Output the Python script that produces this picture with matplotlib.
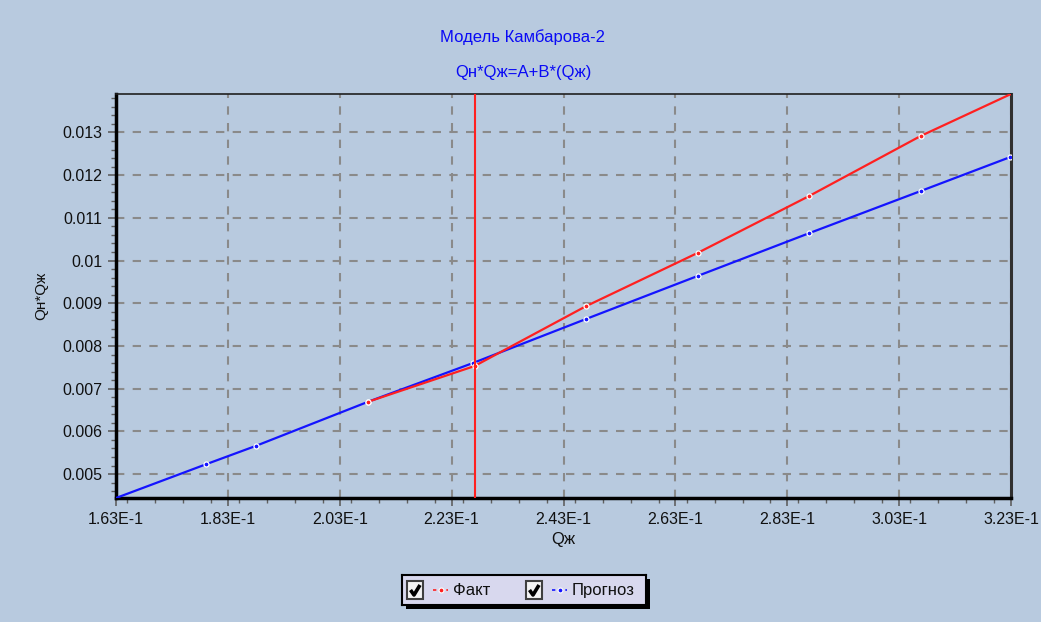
import numpy as np
import matplotlib.pyplot as plt
from matplotlib.patches import Rectangle
from matplotlib.ticker import FixedLocator, MultipleLocator

plt.rcParams['font.family'] = ['Liberation Sans', 'DejaVu Sans']

# data
q_fact = [0.2080, 0.2271, 0.2470, 0.2670, 0.2869, 0.3069, 0.3230]
y_fact = [0.00669, 0.00753, 0.00893, 0.01018, 0.01151, 0.01292, 0.01390]

q_prog = [0.1630, 0.1791, 0.1880, 0.2080, 0.2268, 0.2470, 0.2670, 0.2869, 0.3069, 0.3228, 0.3230]
y_prog = [0.00444, 0.00523, 0.00566, 0.00669, 0.00760, 0.00863, 0.00964, 0.01064, 0.01163, 0.01242, 0.01243]

q_marker = 0.2272

x_ticks = [0.163, 0.183, 0.203, 0.223, 0.243, 0.263, 0.283, 0.303, 0.323]
x_labels = ['1.63E-1', '1.83E-1', '2.03E-1', '2.23E-1', '2.43E-1', '2.63E-1', '2.83E-1', '3.03E-1', '3.23E-1']
y_ticks = [0.005, 0.006, 0.007, 0.008, 0.009, 0.010, 0.011, 0.012, 0.013]
y_labels = ['0.005', '0.006', '0.007', '0.008', '0.009', '0.01', '0.011', '0.012', '0.013']

bg = '#B8CADF'
W, H = 1041, 622

fig = plt.figure(figsize=(W / 100, H / 100), dpi=100, facecolor=bg)
ax = fig.add_axes([116 / W, 1 - 498 / H, (1011 - 116) / W, (498 - 94) / H], facecolor=bg)

ax.grid(True, which='major', color='#8A8A8A', linestyle=(0, (4, 4)), linewidth=1.5)
ax.set_axisbelow(True)

ax.plot(q_prog, y_prog, color='#1414FF', lw=1.6, marker='o', markersize=3.6,
        markevery=list(range(1, len(q_prog) - 1)),
        markerfacecolor='#1414FF', markeredgecolor='white', markeredgewidth=0.9, zorder=3)
ax.plot(q_fact, y_fact, color='#FF2020', lw=1.6, marker='o', markersize=3.6,
        markevery=list(range(0, len(q_fact) - 1)),
        markerfacecolor='#FF2020', markeredgecolor='white', markeredgewidth=0.9, zorder=4)
ax.axvline(q_marker, color='#FF2020', lw=1.5, zorder=5)

ax.set_xlim(x_ticks[0], x_ticks[-1])
ax.set_ylim(y_prog[0], y_fact[-1])

ax.xaxis.set_major_locator(FixedLocator(x_ticks))
ax.set_xticklabels(x_labels)
ax.xaxis.set_minor_locator(MultipleLocator(0.005))
ax.yaxis.set_major_locator(FixedLocator(y_ticks))
ax.set_yticklabels(y_labels)
ax.yaxis.set_minor_locator(MultipleLocator(0.0002))
ax.tick_params(which='major', direction='out', length=6, width=1.2, color='#606060',
               labelsize=11.5, labelcolor='#101010', pad=4)
ax.tick_params(which='minor', direction='out', length=3.5, width=1, color='#606060')

for s in ['left', 'bottom']:
    ax.spines[s].set_linewidth(2.5)
    ax.spines[s].set_color('black')
ax.spines['top'].set_linewidth(1.2)
ax.spines['top'].set_color('#202020')
ax.spines['right'].set_linewidth(2.2)
ax.spines['right'].set_color('#303030')

ax.set_xlabel('Qж', fontsize=12, color='#101010', labelpad=4)
ax.set_ylabel('Qн*Qж', fontsize=11, color='#101010', labelpad=10)

fig.text(523 / W, 1 - 37 / H, 'Модель Камбарова-2', color='#0A0AF5', fontsize=12,
         ha='center', va='center')
fig.text(523 / W, 1 - 72 / H, 'Qн*Qж=A+B*(Qж)', color='#0A0AF5', fontsize=12,
         ha='center', va='center')

# legend box with shadow, drawn by hand
lx0, ly0, lw_, lh_ = 402, 575, 244, 30
fig.patches.append(Rectangle(((lx0 + 4) / W, 1 - (ly0 + lh_ + 4) / H), lw_ / W, lh_ / H,
                             transform=fig.transFigure, facecolor='black', edgecolor='none', zorder=1))
lax = fig.add_axes([lx0 / W, 1 - (ly0 + lh_) / H, lw_ / W, lh_ / H], facecolor='#D8D8EE', zorder=2)
lax.set_xlim(0, lw_)
lax.set_ylim(0, lh_)
lax.set_xticks([])
lax.set_yticks([])
for s in lax.spines.values():
    s.set_linewidth(1.5)
    s.set_color('black')

entries = [(5, 31, 51, '#FF2020', 'Факт'), (124, 150, 170, '#1414FF', 'Прогноз')]
for cb_x, sx, tx, col, name in entries:
    lax.add_patch(Rectangle((cb_x, 6), 16, 18, facecolor='#F4F4F4', edgecolor='#404040', lw=1.5))
    lax.plot([cb_x + 3.5, cb_x + 7, cb_x + 13], [15, 10, 20], color='black', lw=2.6,
             solid_capstyle='butt')
    lax.plot([sx, sx + 15], [15, 15], color=col, lw=1.2, linestyle=(0, (2, 2)))
    lax.plot([sx + 7.5], [15], 'o', color=col, markersize=3.5, markeredgecolor='white',
             markeredgewidth=0.8)
    lax.text(tx, 14.5, name, fontsize=12, color='#101010', va='center', ha='left')

fig.savefig('out.png', dpi=100, facecolor=bg)
